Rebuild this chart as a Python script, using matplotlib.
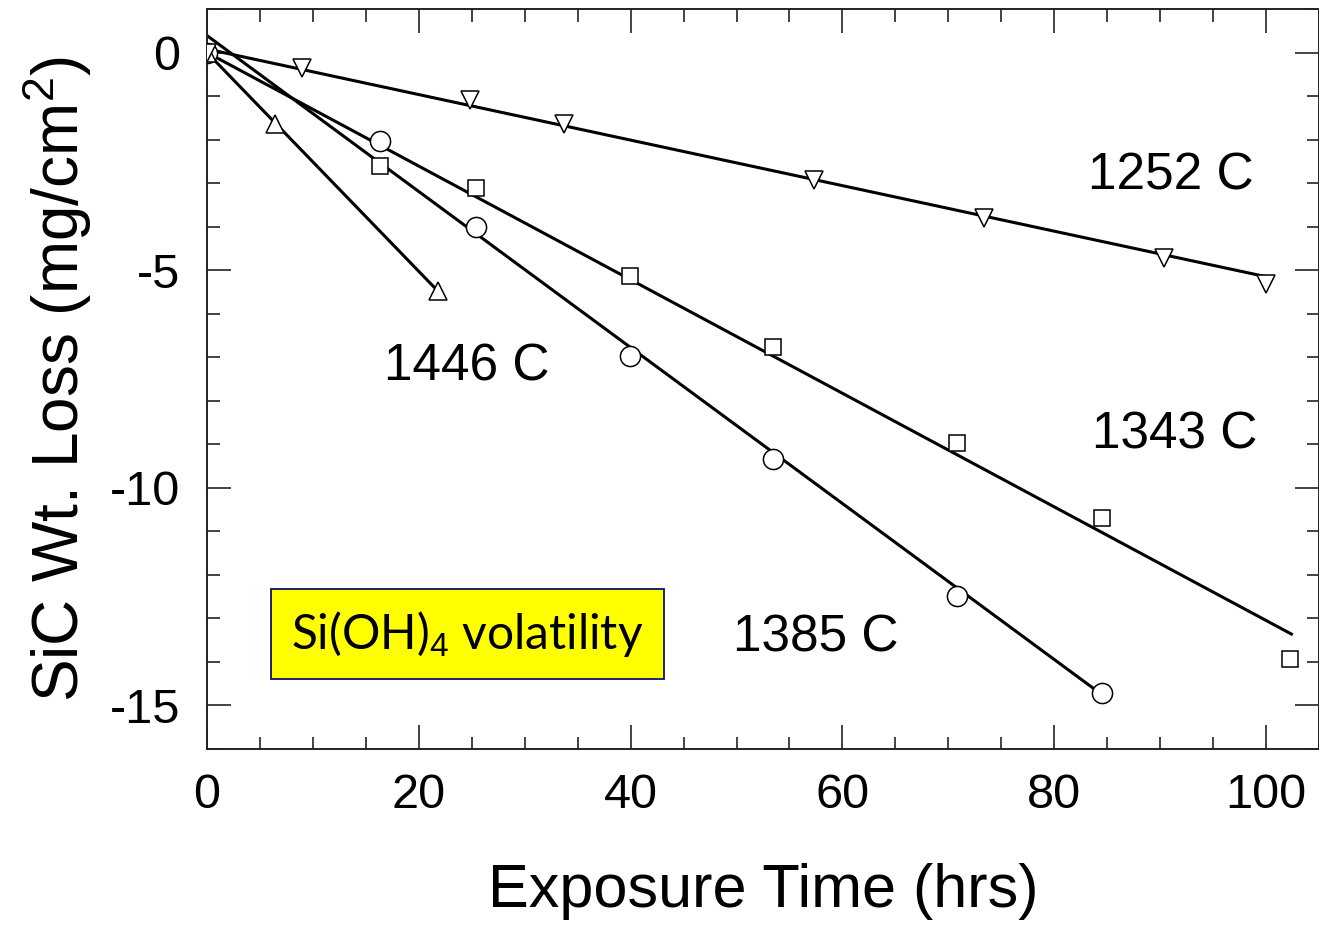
import numpy as np
import matplotlib
matplotlib.use('Agg')
from matplotlib import pyplot as plt
from matplotlib.ticker import MultipleLocator

plt.rcParams['font.family'] = ['Liberation Sans', 'DejaVu Sans']
plt.rcParams['mathtext.fontset'] = 'custom'
plt.rcParams['mathtext.rm'] = 'Liberation Sans'
plt.rcParams['axes.unicode_minus'] = False

# measured weight loss, mg/cm^2, per exposure temperature
t_1252 = [0, 9.0, 24.8, 33.7, 57.3, 73.4, 90.4, 100.0]
w_1252 = [0, -0.35, -1.1, -1.64, -2.93, -3.80, -4.71, -5.31]

t_1343 = [0, 16.3, 25.4, 39.9, 53.4, 70.8, 84.5, 102.3]
w_1343 = [0, -2.6, -3.11, -5.14, -6.77, -8.96, -10.69, -13.94]

t_1385 = [0, 16.3, 25.4, 39.9, 53.4, 70.8, 84.5]
w_1385 = [0, -2.03, -4.0, -6.98, -9.33, -12.49, -14.72]

t_1446 = [0, 6.4, 21.8]
w_1446 = [0, -1.64, -5.48]

# linear fits (start, end) for each temperature
fit_t_1252 = [0, 100.0]
fit_w_1252 = [0.08, -5.15]
fit_t_1343 = [0, 102.4]
fit_w_1343 = [0.0, -13.36]
fit_t_1385 = [0, 84.5]
fit_w_1385 = [0.39, -14.75]
fit_t_1446 = [0, 21.8]
fit_w_1446 = [0.0, -5.48]

labels = ['1252 C', '1343 C', '1385 C', '1446 C']
label_pos = [(91.0, -2.84), (91.4, -8.78), (57.5, -13.45), (24.5, -7.22)]

fig = plt.figure(figsize=(13.19, 9.25), dpi=100)
ax = fig.add_axes([207 / 1319, 176 / 925, 1112 / 1319, 740 / 925])

lw = 2.2
for ft, fw in [(fit_t_1252, fit_w_1252), (fit_t_1343, fit_w_1343),
               (fit_t_1385, fit_w_1385), (fit_t_1446, fit_w_1446)]:
    ax.plot(ft, fw, color='black', lw=lw, zorder=2)

mk = dict(ls='none', mfc='white', mec='black', mew=1.1, zorder=3)
ax.plot(t_1343, w_1343, marker='s', ms=12, **mk)
ax.plot(t_1385, w_1385, marker='o', ms=14.5, **mk)
ax.plot(t_1446, w_1446, marker='^', ms=13, **mk)
ax.plot(t_1252, w_1252, marker='v', ms=13, **mk)

for lab, (x, y) in zip(labels, label_pos):
    ax.text(x, y, lab, fontsize=37, ha='center', va='center')

ax.text(24.6, -13.36, 'Si(OH)$_4$ volatility', fontsize=34.5, family='Lato',
        ha='center', va='center', zorder=4,
        bbox=dict(boxstyle='square,pad=0.42', fc='#FFFF00', ec='#10106A', lw=1.3))

ax.set_xlim(0, 105)
ax.set_ylim(-16, 1)
ax.xaxis.set_major_locator(MultipleLocator(20))
ax.xaxis.set_minor_locator(MultipleLocator(5))
ax.yaxis.set_major_locator(MultipleLocator(5))
ax.yaxis.set_minor_locator(MultipleLocator(1))
ax.set_xticks([0, 20, 40, 60, 80, 100])
ax.tick_params(which='both', direction='in', top=True, right=True, width=1.2, color='#222222')
ax.tick_params(which='major', length=17)
ax.tick_params(which='minor', length=9)
ax.tick_params(axis='x', which='major', labelsize=35, pad=17)
ax.tick_params(axis='y', which='major', labelsize=35, pad=19)
for sp in ax.spines.values():
    sp.set_linewidth(1.4)
    sp.set_color('#222222')

ax.set_xlabel('Exposure Time (hrs)', fontsize=44, labelpad=33)
ax.set_ylabel('SiC Wt. Loss (mg/cm$^2$)', fontsize=46, labelpad=12)

fig.savefig('out.png', dpi=100)
